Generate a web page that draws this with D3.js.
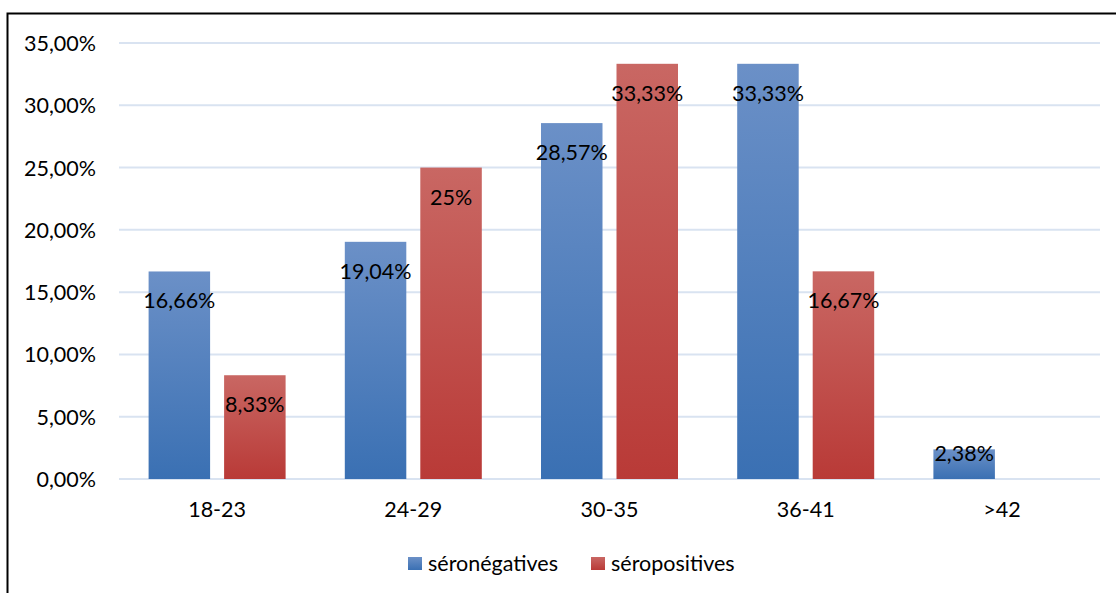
<!DOCTYPE html>
<html>
<head>
<meta charset="utf-8">
<script src="https://cdn.jsdelivr.net/npm/d3@7"></script>
<style>
  html, body { margin: 0; padding: 0; background: #fff; }
  svg { display: block; font-family: Lato, "Open Sans", sans-serif; }
</style>
</head>
<body>
<svg id="chart" width="1116" height="593"></svg>
<script>
// Age groups and the share of each group per serostatus
const categories = ["18-23", "24-29", "30-35", "36-41", ">42"];
const seriesNames = ["séronégatives", "séropositives"];
const seronegatives = [16.66, 19.04, 28.57, 33.33, 2.38];
const seropositives = [8.33, 25, 33.33, 16.67, null];
const negLabels = ["16,66%", "19,04%", "28,57%", "33,33%", "2,38%"];
const posLabels = ["8,33%", "25%", "33,33%", "16,67%", null];
const yTicks = [0, 5, 10, 15, 20, 25, 30, 35];

const W = 1116, H = 593;
const plot = { left: 119, right: 1100, top: 43, bottom: 479 };
const FONT = 21.5;

const svg = d3.select("#chart");

// Gradients for the two series (light at the top, darker at the base)
const defs = svg.append("defs");
const grads = [
  { id: "gNeg", top: "#6b90c7", bottom: "#3a70b3" },
  { id: "gPos", top: "#c96763", bottom: "#b93a37" }
];
grads.forEach(g => {
  const lg = defs.append("linearGradient")
    .attr("id", g.id).attr("x1", 0).attr("y1", 0).attr("x2", 0).attr("y2", 1);
  lg.append("stop").attr("offset", "0%").attr("stop-color", g.top);
  lg.append("stop").attr("offset", "100%").attr("stop-color", g.bottom);
});

// Outer frame (left and top edges)
svg.append("path")
  .attr("d", `M7.5,${H + 5} L7.5,13.5 L${W + 5},13.5`)
  .attr("fill", "none").attr("stroke", "#000").attr("stroke-width", 2);

const x = d3.scaleBand().domain(categories).range([plot.left, plot.right]).paddingInner(0).paddingOuter(0);
const y = d3.scaleLinear().domain([0, 35]).range([plot.bottom, plot.top]);

// Gridlines
svg.append("g").selectAll("line").data(yTicks).join("line")
  .attr("x1", plot.left).attr("x2", plot.right)
  .attr("y1", d => y(d)).attr("y2", d => y(d))
  .attr("stroke", "#d9e3f1").attr("stroke-width", 2);

// Y axis labels
const fmtY = d => d3.format(".2f")(d).replace(".", ",") + "%";
const yAxis = d3.axisLeft(y).tickValues(yTicks).tickSize(0).tickPadding(0).tickFormat(fmtY);
const yg = svg.append("g").attr("transform", "translate(96,0)").call(yAxis);
yg.select(".domain").remove();
yg.selectAll("text").attr("font-size", FONT).attr("fill", "#000")
  .attr("font-family", "Lato, 'Open Sans', sans-serif").attr("dy", "0.35em");

// X axis labels
const xAxis = d3.axisBottom(x).tickSize(0).tickPadding(0);
const xg = svg.append("g").attr("transform", "translate(0,517)").call(xAxis);
xg.select(".domain").remove();
xg.selectAll("text").attr("font-size", FONT).attr("fill", "#000")
  .attr("font-family", "Lato, 'Open Sans', sans-serif").attr("dy", 0);

// Bars inside each band
const barW = 61.5, innerGap = 14;
const groupOffset = (x.bandwidth() - (barW * 2 + innerGap)) / 2;

const series = [
  { values: seronegatives, labels: negLabels, fill: "url(#gNeg)", idx: 0 },
  { values: seropositives, labels: posLabels, fill: "url(#gPos)", idx: 1 }
];

series.forEach(s => {
  const data = categories.map((c, i) => ({ c, v: s.values[i], lab: s.labels[i] })).filter(d => d.v != null);
  const bx = d => x(d.c) + groupOffset + s.idx * (barW + innerGap);
  svg.append("g").selectAll("rect").data(data).join("rect")
    .attr("x", bx).attr("width", barW)
    .attr("y", d => y(d.v)).attr("height", d => y(0) - y(d.v))
    .attr("fill", s.fill);
  svg.append("g").selectAll("text").data(data).join("text")
    .attr("x", d => bx(d) + barW / 2)
    .attr("y", d => Math.min(y(d.v) + 37, y(0) - 18))
    .attr("text-anchor", "middle")
    .attr("font-size", FONT).attr("fill", "#000")
    .text(d => d.lab);
});

// Legend
const legend = svg.append("g");
const legendItems = [
  { name: seriesNames[0], fill: "url(#gNeg)", x: 408 },
  { name: seriesNames[1], fill: "url(#gPos)", x: 591 }
];
legendItems.forEach(it => {
  legend.append("rect").attr("x", it.x).attr("y", 557).attr("width", 14).attr("height", 13).attr("fill", it.fill);
  legend.append("text").attr("x", it.x + 20).attr("y", 571)
    .attr("font-size", FONT).attr("fill", "#000").text(it.name);
});
</script>
</body>
</html>
